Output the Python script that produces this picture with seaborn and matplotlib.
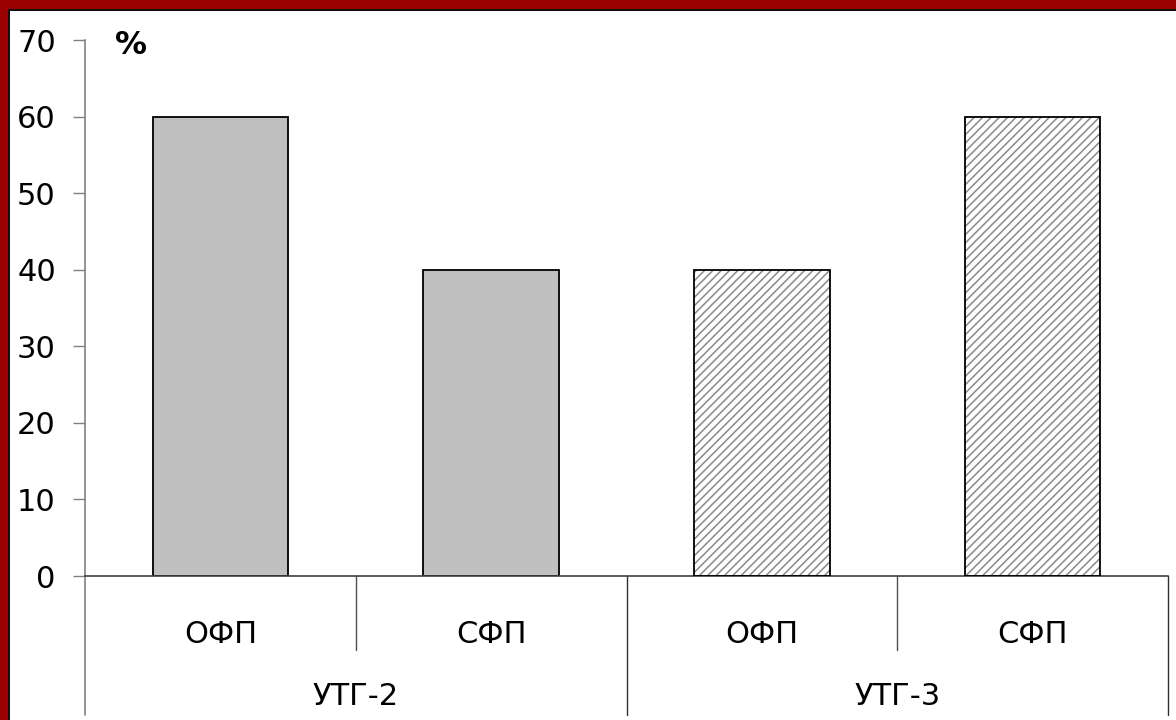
import matplotlib
matplotlib.use("Agg")
import matplotlib.pyplot as plt
from matplotlib.patches import Rectangle
import seaborn as sns
import pandas as pd

# Data
groups = ["УТГ-2", "УТГ-2", "УТГ-3", "УТГ-3"]
kinds = ["ОФП", "СФП", "ОФП", "СФП"]
values = [60, 40, 40, 60]
group_names = ["УТГ-2", "УТГ-3"]
y_ticks = [0, 10, 20, 30, 40, 50, 60, 70]

slots = [f"{g} {k}" for g, k in zip(groups, kinds)]
df = pd.DataFrame({"slot": slots, "group": groups, "kind": kinds, "value": values})

sns.set_theme(style="white")
plt.rcParams["font.family"] = ["DejaVu Sans"]
plt.rcParams["hatch.linewidth"] = 1.1

FS = 22

fig = plt.figure(figsize=(11.76, 7.2), dpi=100, facecolor="white")
ax = fig.add_axes([85 / 1176, 1 - 576 / 720, 1083 / 1176, 536 / 720])

sns.barplot(data=df, x="slot", y="value", hue="group", order=slots,
            hue_order=group_names, palette={"УТГ-2": "#C0C0C0", "УТГ-3": "white"},
            dodge=False, width=0.5, edgecolor="black", linewidth=1.3,
            legend=False, ax=ax)

# Grey diagonal hatching for the second group, with a black outline on top
for p in ax.containers[1]:
    p.set_hatch("////")
    p.set_edgecolor("#8A8A8A")
    p.set_linewidth(0)
    ax.add_patch(Rectangle(p.get_xy(), p.get_width(), p.get_height(),
                           fill=False, edgecolor="black", linewidth=1.3, zorder=3))

ax.set_ylim(0, 70)
ax.set_xlim(-0.5, 3.5)
ax.set_yticks(y_ticks)
ax.set_yticklabels([str(v) for v in y_ticks], fontsize=FS, color="black")
ax.tick_params(axis="y", direction="out", length=9, width=1, color="#808080",
               pad=12, left=True)
ax.set_xticks([])
ax.set_xlabel("")
ax.set_ylabel("")

for side in ["top", "right"]:
    ax.spines[side].set_visible(False)
ax.spines["left"].set_color("#808080")
ax.spines["left"].set_linewidth(1.2)
ax.spines["bottom"].set_color("#404040")
ax.spines["bottom"].set_linewidth(1.2)

# Two-level category axis
trans = ax.get_xaxis_transform()
for i, k in enumerate(kinds):
    ax.text(i, -0.110, k, transform=trans, ha="center", va="center",
            fontsize=FS, color="black")
for j, g in enumerate(group_names):
    ax.text(2 * j + 0.5, -0.2257, g, transform=trans, ha="center", va="center",
            fontsize=FS, color="black")

# Separators below the axis
ax.plot([-0.5, -0.5], [0, -0.2593], transform=trans, color="#808080", lw=1.2, clip_on=False)
for x in [0.5, 2.5]:
    ax.plot([x, x], [0, -0.138], transform=trans, color="#505050", lw=1.0, clip_on=False)
for x in [1.5, 3.5]:
    ax.plot([x, x], [0, -0.2593], transform=trans, color="#303030", lw=1.0, clip_on=False)

ax.text(0.0425, 0.99, "%", transform=ax.transAxes, ha="center", va="center",
        fontsize=23, fontweight="bold", color="black")

# Dark red frame on the top and left edges
W, H = 1176, 720
fig.patches.append(Rectangle((0, 1 - 9 / H), 1, 9 / H, transform=fig.transFigure,
                             facecolor="#9B0000", edgecolor="none", zorder=10))
fig.patches.append(Rectangle((0, 0), 8 / W, 1, transform=fig.transFigure,
                             facecolor="#9B0000", edgecolor="none", zorder=10))
fig.patches.append(Rectangle((8 / W, 0), 2 / W, 1 - 9 / H, transform=fig.transFigure,
                             facecolor="#111111", edgecolor="none", zorder=10))
fig.patches.append(Rectangle((8 / W, 1 - 11 / H), 1, 2 / H, transform=fig.transFigure,
                             facecolor="#111111", edgecolor="none", zorder=10))

fig.savefig("out.png", dpi=100, facecolor="white")
